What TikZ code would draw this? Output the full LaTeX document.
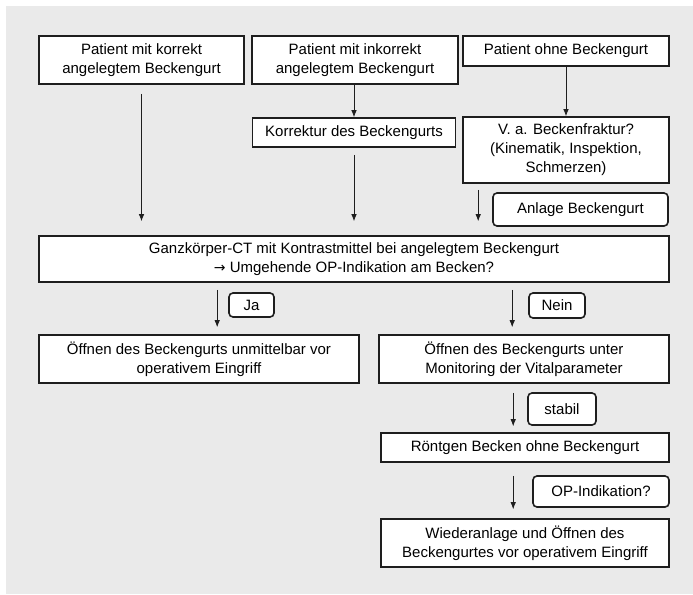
\documentclass[tikz,border=0pt]{standalone}
\usepackage{fontspec}
\setmainfont{Liberation Sans}
\newfontfamily\arrowfont{DejaVu Sans}
\usetikzlibrary{arrows.meta}

\definecolor{panel}{HTML}{EAEAEA}
\definecolor{rim}{HTML}{1E1E1E}

\tikzset{
	box/.style = {draw = rim, line width = 1.6pt, fill = white, align = center,
		inner sep = 0pt, font = \fontsize{15}{19}\selectfont},
	tag/.style = {box, rounded corners = 4pt},
	arr/.style = {line width = 0.8pt, draw = rim, -{Latex[length = 7pt, width = 5.5pt]}}
}

\begin{document}
\begin{tikzpicture}[x = 1pt, y = -1pt]
	 \useasboundingbox (0, 0) rectangle (693, 594);
	 \fill[white] (0, 0) rectangle (693, 594);
	 \fill[panel] (6, 6) rectangle (693, 594);

	 % upper row
	 \node[box, minimum width = 205, minimum height = 48] (korrekt) at (141.5, 60) {Patient mit korrekt\\angelegtem Beckengurt};
	 \node[box, minimum width = 206, minimum height = 48] (inkorrekt) at (355, 60) {Patient mit inkorrekt\\angelegtem Beckengurt};
	 \node[box, minimum width = 206, minimum height = 30] (ohne) at (566, 51) {Patient ohne Beckengurt};

	 \node[box, minimum width = 203, minimum height = 29] (korrektur) at (354, 132.5) {Korrektur des Beckengurts};
	 \node[box, minimum width = 206, minimum height = 66] (verdacht) at (566, 150) {V. a. Beckenfraktur?\\(Kinematik, Inspektion,\\Schmerzen)};
	 \node[tag, minimum width = 175, minimum height = 33] (anlage) at (580.5, 209.5) {Anlage Beckengurt};

	 % CT
	 \node[box, minimum width = 630, minimum height = 46] (ct) at (354, 259) {Ganzkörper-CT mit Kontrastmittel bei angelegtem Beckengurt\\{\arrowfont\fontsize{14}{19}\selectfont →} Umgehende OP-Indikation am Becken?};

	 % lower part
	 \node[tag, minimum width = 45, minimum height = 24] (ja) at (251.5, 305) {Ja};
	 \node[box, minimum width = 320, minimum height = 48] (sofort) at (199, 359) {Öffnen des Beckengurts unmittelbar vor\\operativem Eingriff};
	 \node[tag, minimum width = 56, minimum height = 25] (nein) at (557, 305.5) {Nein};
	 \node[box, minimum width = 290, minimum height = 48] (monitoring) at (524, 359) {Öffnen des Beckengurts unter\\Monitoring der Vitalparameter};
	 \node[tag, minimum width = 68, minimum height = 32] (stabil) at (562, 409) {stabil};
	 \node[box, minimum width = 288, minimum height = 29] (roentgen) at (525, 447.5) {Röntgen Becken ohne Beckengurt};
	 \node[tag, minimum width = 136, minimum height = 31] (opind) at (601, 491.5) {OP-Indikation?};
	 \node[box, minimum width = 288, minimum height = 48] (wieder) at (525, 543) {Wiederanlage und Öffnen des\\Beckengurtes vor operativem Eingriff};

	 % arrows
	 \draw[arr, shorten <= 9pt, shorten >= 14pt] (korrekt.south) -- (korrekt.south |- ct.north);
	 \draw[arr] (inkorrekt.south -| korrektur.north) -- (korrektur.north);
	 \draw[arr, shorten <= 7pt, shorten >= 14pt] (korrektur.south) -- (korrektur.south |- ct.north);
	 \draw[arr] (ohne.south) -- (verdacht.north);
	 \draw[arr, shorten <= 6pt, shorten >= 14pt] ([xshift = -14pt]anlage.west |- verdacht.south) -- ([xshift = -14pt]anlage.west |- ct.north);

	 \draw[arr, shorten <= 7pt, shorten >= 7pt] ([xshift = -11pt]ja.west |- ct.south) -- ([xshift = -11pt]ja.west |- sofort.north);
	 \draw[arr, shorten <= 7pt, shorten >= 7pt] ([xshift = -16pt]nein.west |- ct.south) -- ([xshift = -16pt]nein.west |- monitoring.north);
	 \draw[arr, shorten <= 9pt, shorten >= 6pt] ([xshift = -14pt]stabil.west |- monitoring.south) -- ([xshift = -14pt]stabil.west |- roentgen.north);
	 \draw[arr, shorten <= 13pt, shorten >= 9pt] ([xshift = -19pt]opind.west |- roentgen.south) -- ([xshift = -19pt]opind.west |- wieder.north);
\end{tikzpicture}
\end{document}
